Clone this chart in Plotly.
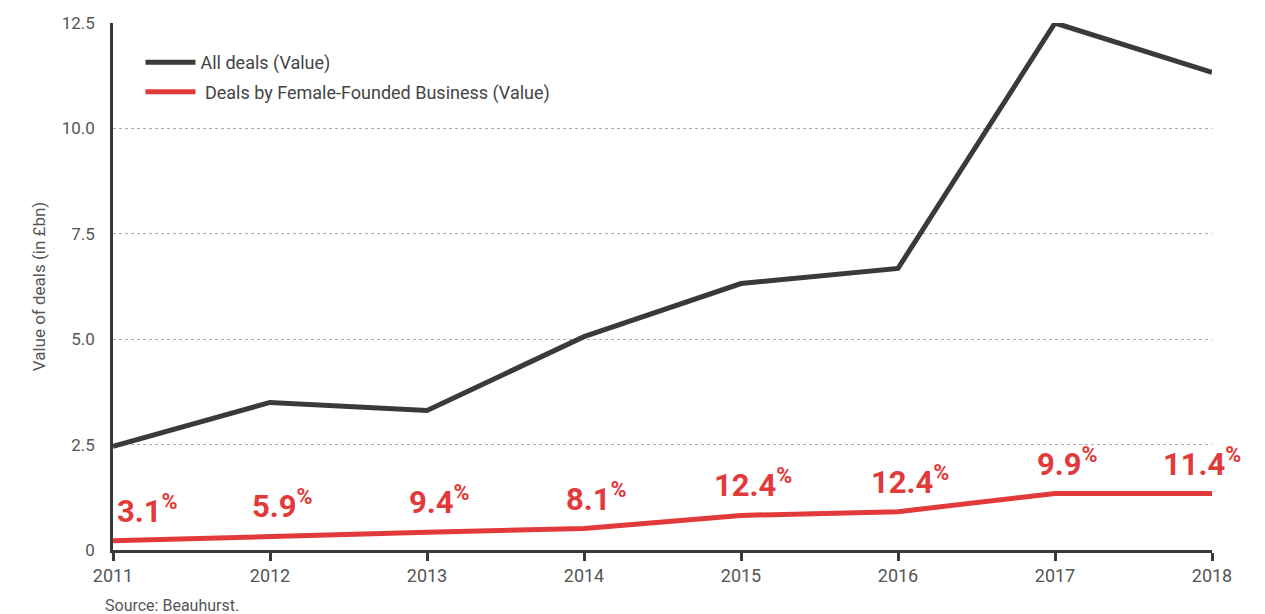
import plotly.graph_objects as go

years = [2011, 2012, 2013, 2014, 2015, 2016, 2017, 2018]
all_deals = [2.46, 3.50, 3.31, 5.06, 6.32, 6.68, 12.5, 11.33]
female_deals = [0.22, 0.33, 0.42, 0.51, 0.82, 0.91, 1.34, 1.34]
female_share = ["3.1", "5.9", "9.4", "8.1", "12.4", "12.4", "9.9", "11.4"]
y_tickvals = [0, 2.5, 5.0, 7.5, 10.0, 12.5]
y_ticktext = ["0", "2.5", "5.0", "7.5", "10.0", "12.5"]

DARK = "#3a3a3a"
RED = "#e2393a"
GREY_TXT = "#555555"
FONT = "Roboto"

fig = go.Figure()
fig.add_trace(go.Scatter(x=years, y=all_deals, mode="lines", name="All deals (Value)",
                         legendgroup="a",
                         line=dict(color=DARK, width=5), cliponaxis=False))
fig.add_trace(go.Scatter(x=years, y=female_deals, mode="lines",
                         name=" Deals by Female-Founded Business (Value)",
                         legendgroup="b",
                         line=dict(color=RED, width=5), cliponaxis=False))

for i, (yr, v, s) in enumerate(zip(years, female_deals, female_share)):
    if i == 0:
        xa, xs = "left", 2
    elif i == len(years) - 1:
        xa, xs = "center", -10
    else:
        xa, xs = "center", 12
    fig.add_annotation(x=yr, y=v, text=f"<b>{s}</b><sup><b>%</b></sup>", showarrow=False,
                       xanchor=xa, yanchor="bottom", xshift=xs, yshift=9,
                       font=dict(family=FONT, size=31, color=RED))

fig.add_annotation(x=0, y=0, xref="paper", yref="paper", text="Source: Beauhurst.",
                   showarrow=False, xanchor="left", yanchor="top", xshift=-10, yshift=-44,
                   font=dict(family=FONT, size=16, color=GREY_TXT))

fig.update_layout(
    width=1265, height=614,
    margin=dict(l=105, r=61, t=15, b=72, autoexpand=False),
    paper_bgcolor="white", plot_bgcolor="white",
    font=dict(family=FONT, color=GREY_TXT),
    showlegend=True,
    legend=dict(x=0.025, y=0.96, xanchor="left", yanchor="top", traceorder="grouped",
                font=dict(family=FONT, size=18, color="#444444"),
                bgcolor="rgba(0,0,0,0)", tracegroupgap=3, itemwidth=50),
    xaxis=dict(range=[2011, 2018], tickvals=years, ticktext=[str(y) for y in years],
               automargin=False,
               showgrid=False, zeroline=False, showline=True, linecolor=DARK, linewidth=2.5,
               ticks="outside", ticklen=8, tickwidth=2.5, tickcolor=DARK,
               tickfont=dict(family=FONT, size=18, color=GREY_TXT)),
    yaxis=dict(range=[0, 12.5], tickvals=y_tickvals, ticktext=y_ticktext,
               automargin=False,
               showgrid=True, gridcolor="#aaaaaa", gridwidth=1, griddash="3px,3px",
               zeroline=False, showline=True, linecolor=DARK, linewidth=2.5,
               ticks="", ticklabelstandoff=12,
               tickfont=dict(family=FONT, size=17, color=GREY_TXT),
               title=dict(text="Value of deals (in £bn)", standoff=12,
                          font=dict(family=FONT, size=17, color=GREY_TXT))),
)

fig.write_html("out.html")
